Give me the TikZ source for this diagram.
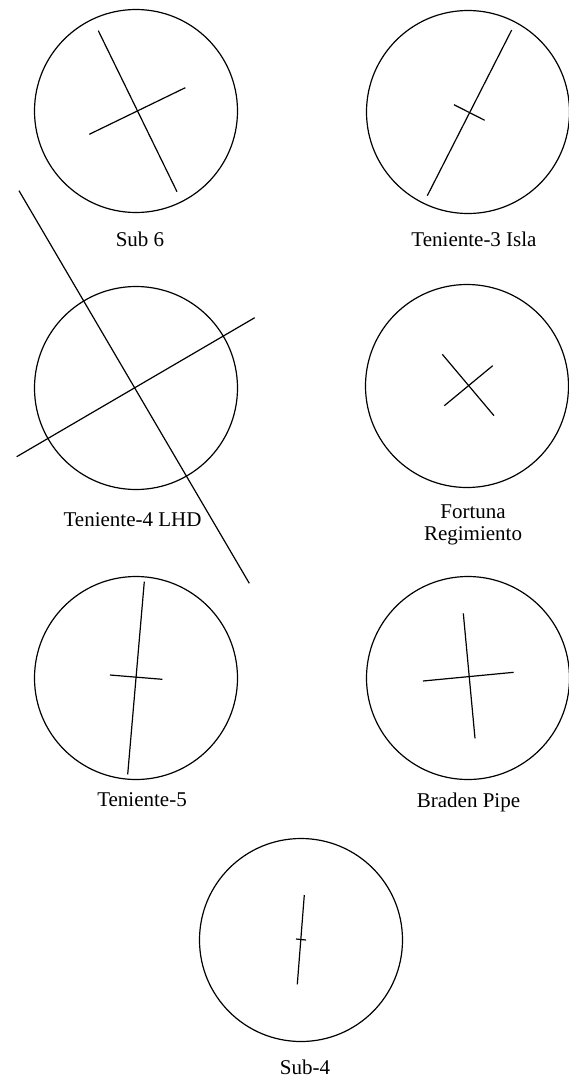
\documentclass[tikz,border=0pt]{standalone}
\usepackage{fontspec}
\setmainfont{Liberation Serif}
\begin{document}
\begin{tikzpicture}[x=1pt,y=-1pt,
  ring/.style={draw,circle,line width=1.2pt,minimum size=203pt,inner sep=0pt},
  seg/.style={line width=1.2pt},
  lbl/.style={anchor=base,inner sep=0pt,font=\fontsize{21}{25}\selectfont,align=center}]
\useasboundingbox (0,0) rectangle (568,1077);
% circles
\node[ring] (c1) at (136,111) {};
\node[ring] (c2) at (468,112) {};
\node[ring] (c3) at (136,388) {};
\node[ring] (c4) at (467,386) {};
\node[ring] (c5) at (136,678) {};
\node[ring] (c6) at (468,678) {};
\node[ring] (c7) at (301,940) {};
% labels
\node[lbl] (l1) at (140,246.7) {Sub 6};
\node[lbl] (l2) at (474,246.7) {Teniente-3 Isla};
\node[lbl] (l3) at (132.5,526.7) {Teniente-4 LHD};
\node[lbl] (l4a) at (473,518.3) {Fortuna};
\node[lbl] (l4b) at (473,540) {Regimiento};
\node[lbl] (l5) at (142,806) {Teniente-5};
\node[lbl] (l6) at (468.5,807) {Braden Pipe};
\node[lbl] (l7) at (305,1074) {Sub-4};
% line endpoints
\coordinate (a1) at (98.3,30.7);  \coordinate (b1) at (177,191.7);
\coordinate (a2) at (89.3,134.3); \coordinate (b2) at (185.3,87.7);
\coordinate (a3) at (511.7,30);   \coordinate (b3) at (427.3,195.7);
\coordinate (a4) at (454,104.7);  \coordinate (b4) at (484.7,120.3);
\coordinate (a5) at (19,190.7);   \coordinate (b5) at (249.3,583.3);
\coordinate (a6) at (16.7,456.7); \coordinate (b6) at (254.7,317.7);
\coordinate (a7) at (442.3,354.3); \coordinate (b7) at (494,415.7);
\coordinate (a8) at (444.3,405.7); \coordinate (b8) at (492.7,365.7);
\coordinate (a9) at (144.3,581.7); \coordinate (b9) at (127.7,774.3);
\coordinate (a10) at (110,675);   \coordinate (b10) at (162.3,679.3);
\coordinate (a11) at (463.3,613.3); \coordinate (b11) at (475,738.3);
\coordinate (a12) at (423,681);   \coordinate (b12) at (513.7,672.3);
\coordinate (a13) at (304.3,895); \coordinate (b13) at (297.3,984.3);
\coordinate (a14) at (296,939);   \coordinate (b14) at (306,940);
\foreach \i in {1,...,14} {\draw[seg] (a\i) -- (b\i);}
\end{tikzpicture}
\end{document}
